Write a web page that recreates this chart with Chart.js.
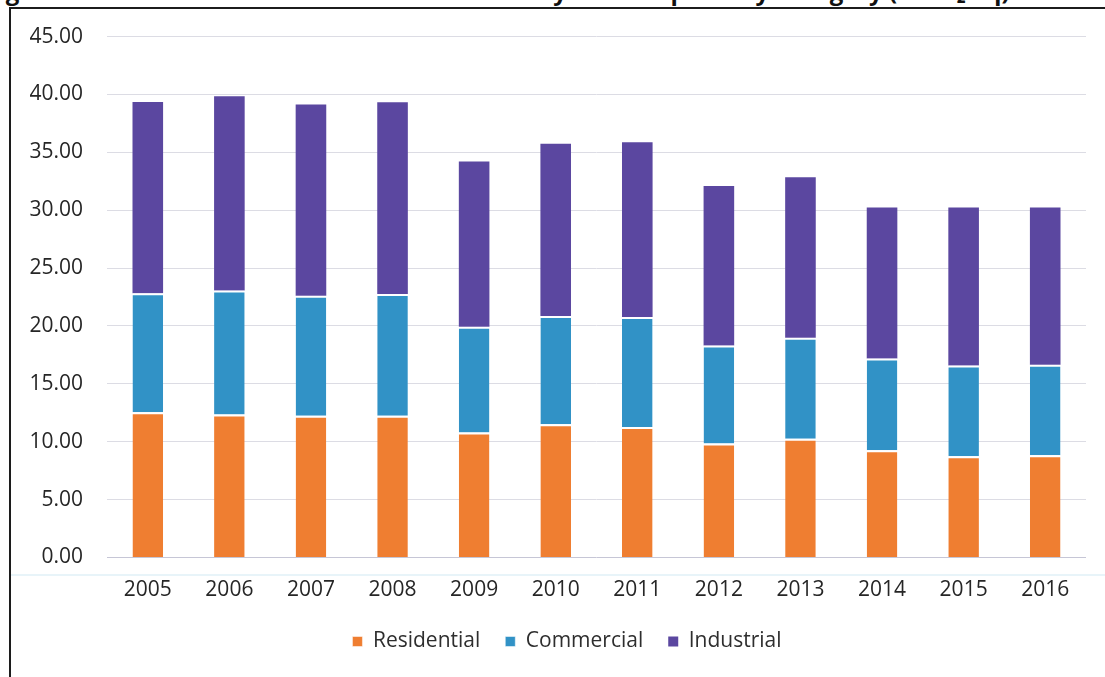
<!DOCTYPE html>
<html>
<head>
<meta charset="utf-8">
<script src="https://cdn.jsdelivr.net/npm/chart.js@4.4.1/dist/chart.umd.min.js"></script>
<style>
  html, body { margin: 0; padding: 0; background: #ffffff; }
  body { width: 1105px; height: 677px; position: relative; overflow: hidden; }
  #title { position: absolute; left: 0; top: 0; width: 1105px; height: 7px; overflow: hidden; }
  #title > span { position: absolute; left: -13px; top: -21px; white-space: nowrap;
    font: bold 24px/24px "Open Sans", sans-serif; color: #111; }
  #topline { position: absolute; left: 9px; top: 7px; width: 1096px; height: 2px; background: #1c1c1c; }
  #leftline { position: absolute; left: 9px; top: 7px; width: 2px; height: 670px; background: #1c1c1c; }
  #band { position: absolute; left: 11px; top: 574px; width: 1094px; height: 2px; background: #e8f4f9; }
  canvas { position: absolute; left: 0; top: 0; }
</style>
</head>
<body>
<div id="title"><span id="tt">Figure 5: Trend in GHG Emissions from <span id="elec">Electricity</span> Consumption by Category (ktCO₂ eq)</span></div>
<div id="band"></div>
<canvas id="c" width="1105" height="677"></canvas>
<div id="topline"></div>
<div id="leftline"></div>
<script>
const categories = ['2005','2006','2007','2008','2009','2010','2011','2012','2013','2014','2015','2016'];
const residential = [12.54, 12.36, 12.24, 12.24, 10.79, 11.52, 11.28, 9.85, 10.26, 9.27, 8.75, 8.83];
const commercial  = [10.28, 10.70, 10.38, 10.53, 9.15, 9.35, 9.50, 8.47, 8.72, 7.92, 7.83, 7.83];
const industrial  = [16.54, 16.79, 16.51, 16.56, 14.26, 14.88, 15.09, 13.78, 13.87, 13.04, 13.65, 13.57];
const seriesNames = ['Residential', 'Commercial', 'Industrial'];
const yTicks = [0, 5, 10, 15, 20, 25, 30, 35, 40, 45];

// align the clipped title so the end of "Electricity" sits where it does in the reference
(function alignTitle() {
  const tt = document.getElementById('tt');
  const el = document.getElementById('elec');
  const r = el.getBoundingClientRect();
  const cur = parseFloat(getComputedStyle(tt).left);
  tt.style.left = (cur + (567 - r.right)) + 'px';
})();

const FONT = '"Open Sans", sans-serif';
const shiftLegend = {
  id: 'shiftLegend',
  afterLayout(chart) {
    if (chart.legend) { chart.legend.left += 9; chart.legend.right += 9; }
  }
};

new Chart(document.getElementById('c'), {
  type: 'bar',
  data: {
    labels: categories,
    datasets: [
      { label: seriesNames[0], data: residential, backgroundColor: '#EF7E31',
        borderColor: '#ffffff', borderWidth: {top: 2, left: 0, right: 0, bottom: 0}, borderSkipped: false },
      { label: seriesNames[1], data: commercial, backgroundColor: '#3192C6',
        borderColor: '#ffffff', borderWidth: {top: 2, left: 0, right: 0, bottom: 0}, borderSkipped: false },
      { label: seriesNames[2], data: industrial, backgroundColor: '#5B47A0', borderWidth: 0 }
    ]
  },
  options: {
    responsive: false,
    animation: false,
    devicePixelRatio: 1,
    layout: { padding: { top: 35, left: 30, right: 19, bottom: 15 } },
    datasets: { bar: { barPercentage: 0.375, categoryPercentage: 1.0 } },
    plugins: {
      legend: {
        position: 'bottom',
        labels: { boxWidth: 10, boxHeight: 10, padding: 25, color: '#2e2e2e',
          font: { family: FONT, size: 21 } }
      },
      tooltip: { enabled: false },
      title: { display: false }
    },
    scales: {
      x: {
        stacked: true,
        grid: { display: false, drawTicks: false },
        border: { display: false },
        ticks: { color: '#262626', padding: 19.5, font: { family: FONT, size: 21 }, maxRotation: 0 },
        afterFit(scale) { scale.height = 48.5; }
      },
      y: {
        stacked: true,
        min: 0, max: 45,
        afterBuildTicks(scale) { scale.ticks = yTicks.map(v => ({ value: v })); },
        grid: { drawTicks: false, lineWidth: 1,
          color: ctx => (ctx.tick && ctx.tick.value === 0) ? '#c6c6d6' : '#dcdce4' },
        border: { display: false },
        ticks: { color: '#262626', padding: 24, font: { family: FONT, size: 21 },
          callback: v => Number(v).toFixed(2) },
        afterFit(scale) { scale.width = 77; }
      }
    }
  },
  plugins: [shiftLegend]
});
</script>
</body>
</html>
